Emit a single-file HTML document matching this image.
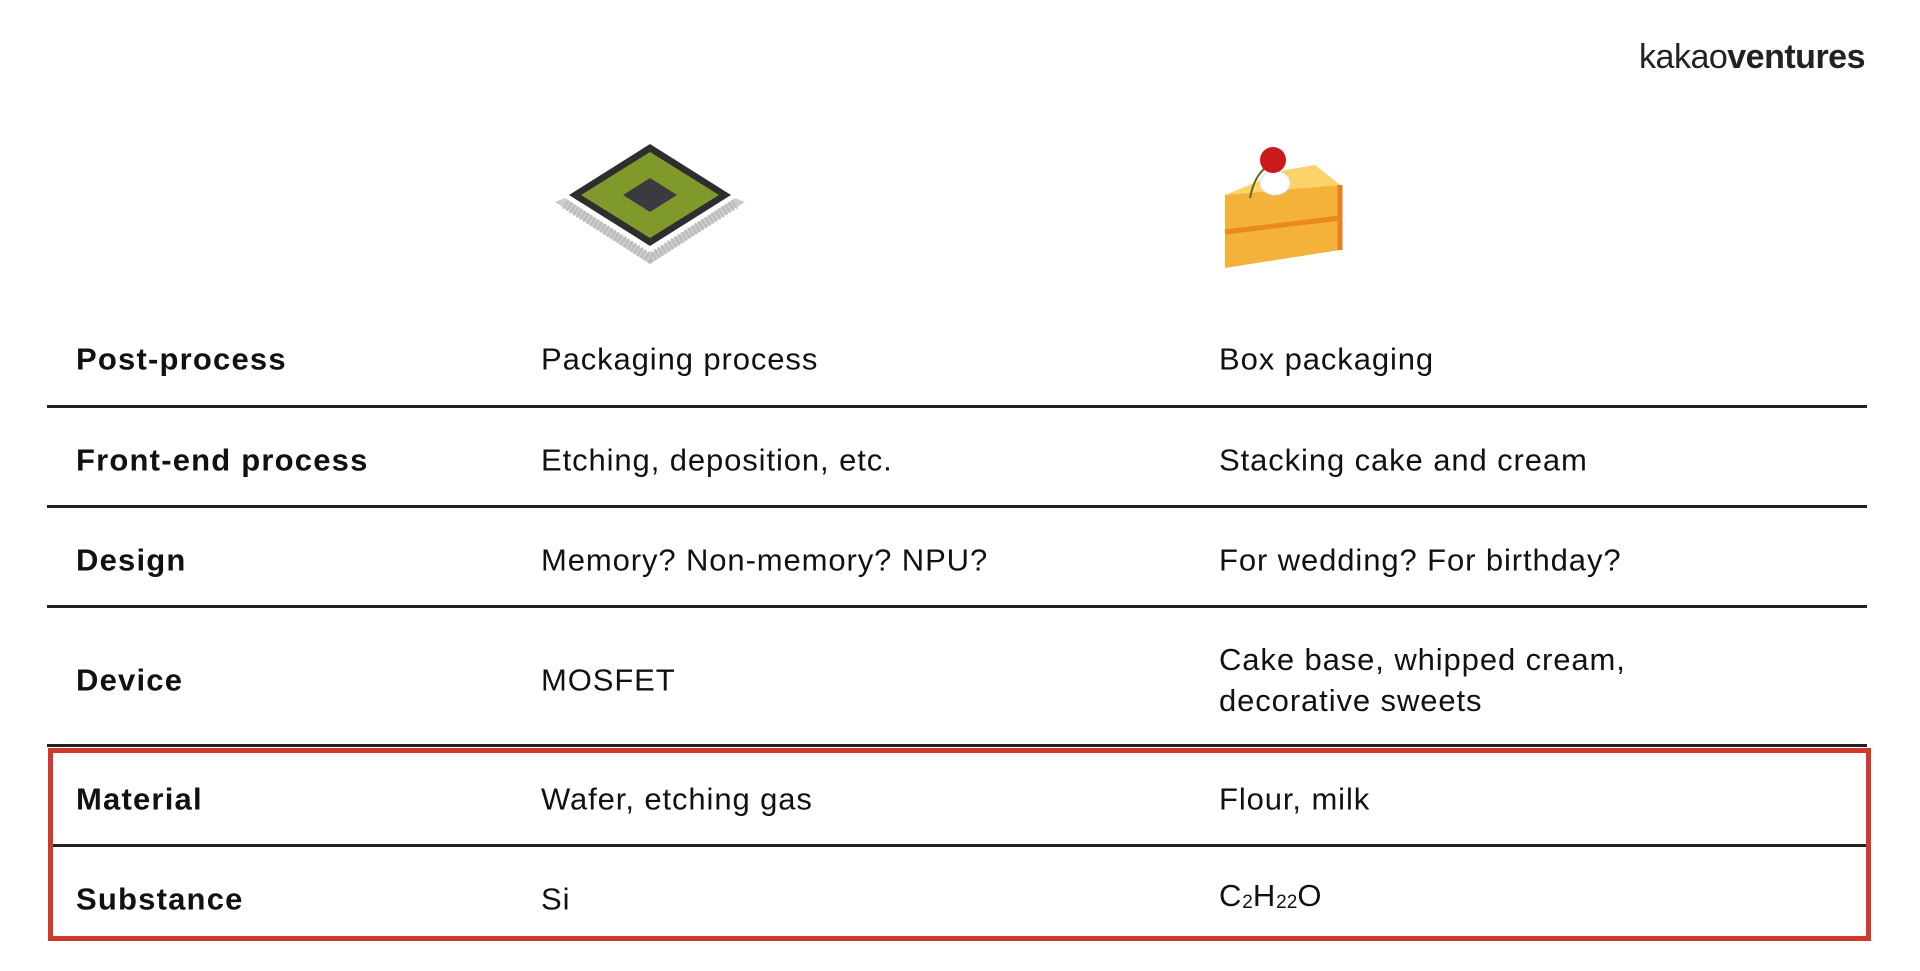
<!DOCTYPE html>
<html><head><meta charset="utf-8"><style>
body{margin:0;width:1920px;height:971px;background:#fff;position:relative;overflow:hidden;font-family:"Liberation Sans",Arial,sans-serif;color:#111;}
.t{position:absolute;font-size:31px;letter-spacing:0.9px;line-height:41px;white-space:nowrap;transform:translateY(-50%);}
.b{font-weight:bold;letter-spacing:1.2px;}
.l{position:absolute;left:47px;width:1820px;height:3px;background:#222;}
sub{font-size:19px;vertical-align:-2px;letter-spacing:0}
</style></head><body>
<div style="position:absolute;right:55px;top:38px;font-size:34px;letter-spacing:-0.5px;color:#222">kakao<b>ventures</b></div>

<svg style="position:absolute;left:555px;top:140px" width="190" height="124" viewBox="0 0 190 124">
<g fill="#ccc"><polygon points="0,62 95,124 190,62 180,58 95,114 10,58"/></g>
<path d="M10,64 L95,118 L180,64" fill="none" stroke="#bbb" stroke-width="10" stroke-dasharray="2,2"/>
<polygon points="95,4 176,55 95,106 14,55" fill="#2e2e2e"/>
<polygon points="95,12 164,55 95,98 26,55" fill="#7f9a2a"/>
<polygon points="95,38 122,55 95,72 68,55" fill="#3a3a40"/>
</svg>

<svg style="position:absolute;left:1215px;top:140px" width="135" height="130" viewBox="0 0 135 130">
<polygon points="10,55 100,25 125,45 125,110 10,128" fill="#f4b23a"/>
<polygon points="10,55 70,30 100,25 125,45" fill="#fbd36a"/>
<line x1="10" y1="92" x2="125" y2="78" stroke="#e88a1e" stroke-width="5"/>
<line x1="125" y1="45" x2="125" y2="110" stroke="#ea7f1c" stroke-width="5"/>
<ellipse cx="60" cy="43" rx="15" ry="12" fill="#fff" stroke="#ddd"/>
<path d="M60,22 Q40,30 35,58" stroke="#5a6a20" stroke-width="2" fill="none"/>
<circle cx="58" cy="20" r="13" fill="#cc1a1a"/>
</svg>

<div class="t b" style="left:76px;top:359px">Post-process</div>
<div class="t" style="left:541px;top:359px">Packaging process</div>
<div class="t" style="left:1219px;top:359px">Box packaging</div>
<div class="l" style="top:405px"></div>

<div class="t b" style="left:76px;top:460px">Front-end process</div>
<div class="t" style="left:541px;top:460px">Etching, deposition, etc.</div>
<div class="t" style="left:1219px;top:460px">Stacking cake and cream</div>
<div class="l" style="top:505px"></div>

<div class="t b" style="left:76px;top:560px">Design</div>
<div class="t" style="left:541px;top:560px">Memory? Non-memory? NPU?</div>
<div class="t" style="left:1219px;top:560px">For wedding? For birthday?</div>
<div class="l" style="top:605px"></div>

<div class="t b" style="left:76px;top:680px">Device</div>
<div class="t" style="left:541px;top:680px">MOSFET</div>
<div class="t" style="left:1219px;top:680px">Cake base, whipped cream,<br>decorative sweets</div>
<div class="l" style="top:744px"></div>

<div style="position:absolute;left:48px;top:748px;width:1813px;height:183px;border:5px solid #d0392b;"></div>
<div style="position:absolute;left:53px;top:844px;width:1813px;height:3px;background:#222"></div>

<div class="t b" style="left:76px;top:799px">Material</div>
<div class="t" style="left:541px;top:799px">Wafer, etching gas</div>
<div class="t" style="left:1219px;top:799px">Flour, milk</div>

<div class="t b" style="left:76px;top:899px">Substance</div>
<div class="t" style="left:541px;top:899px">Si</div>
<div class="t" style="left:1219px;top:899px">C<sub>2</sub>H<sub>22</sub>O</div>
</body></html>
